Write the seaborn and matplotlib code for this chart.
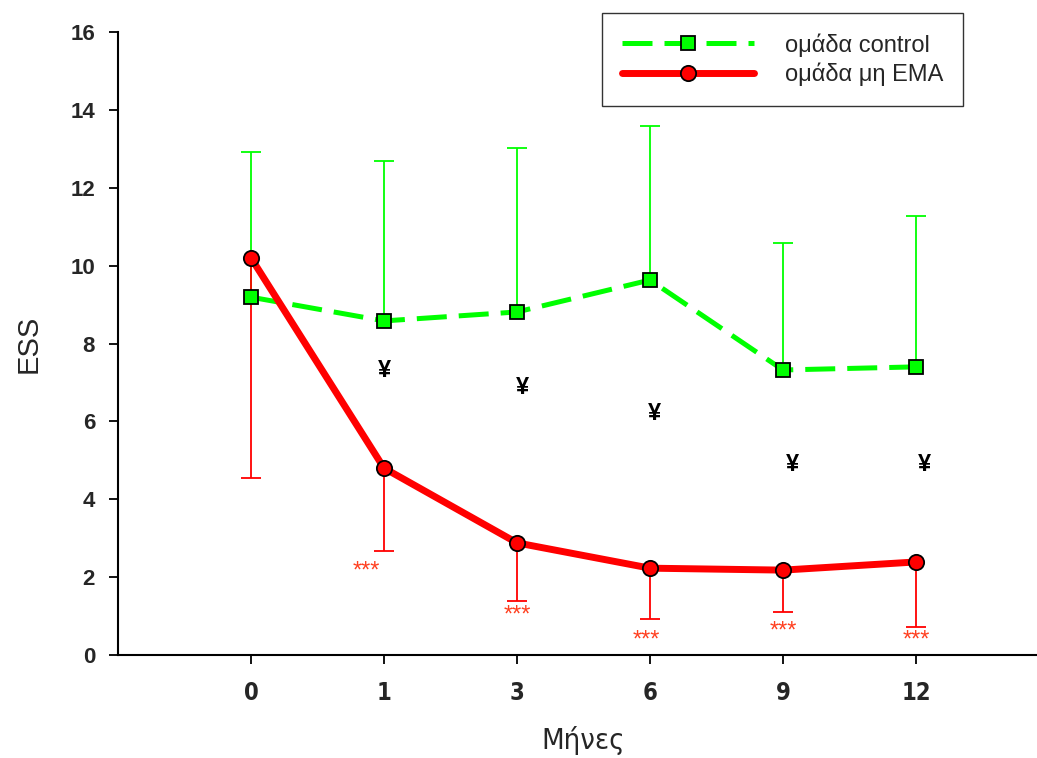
import numpy as np
import pandas as pd
import matplotlib.pyplot as plt
import seaborn as sns

# δεδομένα από το διάγραμμα
months = ['0', '1', '3', '6', '9', '12']
control_mean = [9.19, 8.58, 8.81, 9.63, 7.32, 7.40]
control_upper = [12.92, 12.69, 13.02, 13.58, 10.58, 11.27]
ema_mean = [10.20, 4.80, 2.88, 2.23, 2.18, 2.39]
ema_lower = [4.55, 2.67, 1.39, 0.92, 1.10, 0.72]

# σημάδια σημαντικότητας (μήνες 1..12)
yen_y = [7.3, 6.88, 6.2, 4.88, 4.88]
yen_dx = [0.0, 0.04, 0.03, 0.07, 0.06]
star_y = [2.15, 1.02, 0.36, 0.59, 0.36]
star_dx = [-0.13, 0.0, -0.03, 0.0, 0.0]

pos = np.arange(len(months))
df = pd.DataFrame({'pos': pos, 'control': control_mean, 'ema': ema_mean})

sns.set_style('ticks')
plt.rcParams['font.family'] = ['Liberation Sans', 'DejaVu Sans']

green = '#00ff00'
red = '#ff0000'
narrow = ['Liberation Sans Narrow', 'DejaVu Sans']

fig = plt.figure(figsize=(10.37, 7.58), dpi=100)
ax = fig.add_axes([118 / 1037, 1 - 655 / 758, 931 / 1037, 623 / 758])

# error bars (μόνο προς τα πάνω / κάτω)
up_err = np.array(control_upper) - np.array(control_mean)
eb = ax.errorbar(pos, control_mean, yerr=[np.zeros(len(pos)), up_err], fmt='none',
                 ecolor=green, elinewidth=1.3, capsize=7, capthick=1.3, zorder=1)
eb[1][0].set_visible(False)
lo_err = np.array(ema_mean) - np.array(ema_lower)
eb = ax.errorbar(pos, ema_mean, yerr=[lo_err, np.zeros(len(pos))], fmt='none',
                 ecolor=red, elinewidth=1.3, capsize=7, capthick=1.3, zorder=1)
eb[1][1].set_visible(False)

sns.lineplot(data=df, x='pos', y='control', ax=ax, color=green, lw=3.6,
             linestyle=(0, (6, 2.4)), marker='s', markersize=10.5,
             markerfacecolor=green, markeredgecolor='black', markeredgewidth=1.3,
             label='ομάδα control', zorder=3)
sns.lineplot(data=df, x='pos', y='ema', ax=ax, color=red, lw=5,
             marker='o', markersize=11, markerfacecolor=red,
             markeredgecolor='black', markeredgewidth=1.3,
             label='ομάδα μη EMA', zorder=4)

for i in range(1, len(months)):
    ax.text(pos[i] + yen_dx[i - 1], yen_y[i - 1], '¥', ha='center', va='center',
            fontsize=17, fontweight='bold', color='black')
    ax.text(pos[i] + star_dx[i - 1], star_y[i - 1], '***', ha='center', va='center',
            fontsize=17, color='#ff4020')

ax.set_xlim(-1, 6)
ax.set_ylim(0, 16)
ax.set_yticks(range(0, 17, 2))
ax.set_xticks(pos)
ax.set_xticklabels(months, fontsize=17, fontweight='bold', family=narrow,
                   fontstretch='condensed')
for t in ax.get_yticklabels():
    t.set_fontsize(16)
    t.set_fontweight('bold')

sns.despine(ax=ax)
for s in ['left', 'bottom']:
    ax.spines[s].set_linewidth(1.5)
    ax.spines[s].set_color('black')
ax.tick_params(axis='both', direction='out', length=6.5, width=1.3, color='black')
ax.tick_params(axis='y', pad=10)
ax.tick_params(axis='x', pad=12)

ax.set_xlabel('Μήνες', fontsize=21, labelpad=15, family=narrow, fontstretch='condensed')
ax.set_ylabel('ESS', fontsize=21, labelpad=20)

handles, labels = ax.get_legend_handles_labels()
ax.get_legend().remove()
leg = fig.legend(handles, labels, loc='upper left', bbox_to_anchor=(602 / 1037, 1 - 13 / 758),
                 borderaxespad=0, fontsize=17, frameon=True, fancybox=False,
                 edgecolor='black', handlelength=5.6, handletextpad=1.3,
                 borderpad=0.85, labelspacing=0.25, numpoints=1)
leg.get_frame().set_linewidth(1.0)

fig.savefig('out.png', dpi=100)
